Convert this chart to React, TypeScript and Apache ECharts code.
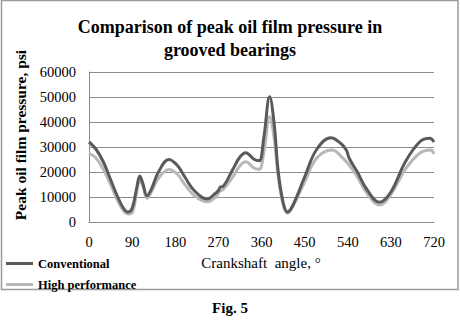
import React, { useEffect, useRef } from "react";
import * as echarts from "echarts";

const titleText = "Comparison of peak oil film pressure in\ngrooved bearings";
const xAxisName = "Crankshaft  angle, \u00b0";
const yAxisName = "Peak oil film pressure, psi";
const caption = "Fig. 5";
const seriesNames = ["Conventional", "High performance"];

const convAngles = [0, 15, 30, 45, 60, 72, 81, 90, 100, 106, 113, 121, 130, 145, 167, 185, 200, 220, 247, 264, 270, 274, 280, 300, 315, 327, 345, 355, 365, 377, 386, 395, 405, 414, 425, 450, 475, 505, 525, 537, 543, 560, 580, 606, 630, 660, 690, 711, 720];
const convValues = [32000, 29000, 24000, 17000, 10000, 5500, 4000, 5500, 14000, 18400, 15000, 10500, 13000, 20000, 25000, 22500, 18000, 12500, 9200, 11500, 12500, 14000, 14300, 21000, 26000, 27700, 25000, 24500, 34000, 50100, 40000, 20000, 8000, 4000, 6500, 18000, 29000, 33700, 31500, 28800, 25500, 20000, 13000, 7900, 12000, 24000, 32000, 33500, 32000];

const hpAngles = [0, 15, 30, 45, 60, 74, 84, 92, 100, 106, 113, 121, 130, 145, 167, 185, 200, 220, 247, 265, 272, 280, 300, 315, 327, 345, 355, 365, 377, 386, 395, 405, 414, 425, 450, 475, 507, 530, 543, 560, 580, 606, 630, 660, 690, 713, 720];
const hpValues = [27500, 25500, 21000, 15000, 8500, 4000, 3200, 4500, 12500, 16800, 14000, 9500, 12000, 17500, 21000, 19000, 15000, 10500, 8100, 10000, 12100, 13000, 18000, 22500, 24100, 21500, 21100, 28000, 42100, 34000, 18000, 7000, 3500, 6000, 16000, 25500, 28800, 25500, 22800, 18000, 11500, 6800, 11000, 21000, 27500, 28800, 27200];

const FONT = "Liberation Serif";

export default function App() {
  const ref = useRef<HTMLDivElement>(null);
  useEffect(() => {
    if (!ref.current) return;
    const chart = echarts.init(ref.current, undefined, { renderer: "svg" });
    chart.setOption({
      animation: false,
      backgroundColor: "#ffffff",
      title: {
        text: titleText,
        left: "center",
        top: 10,
        textStyle: { fontFamily: FONT, fontSize: 18, fontWeight: "bold", color: "#000", lineHeight: 23 },
      },
      legend: {
        orient: "vertical",
        left: 1,
        top: 252,
        itemWidth: 27,
        itemHeight: 3,
        itemGap: 8,
        icon: "rect",
        data: seriesNames,
        textStyle: { fontFamily: FONT, fontSize: 12.5, fontWeight: "bold", color: "#000" },
      },
      grid: { left: 89, right: 26, top: 72, bottom: 103 },
      xAxis: {
        type: "value",
        min: 0,
        max: 720,
        interval: 90,
        axisLine: { show: true, lineStyle: { color: "#8c8c8c", width: 1 } },
        axisTick: { show: false },
        splitLine: { show: false },
        axisLabel: { fontFamily: FONT, fontSize: 14.5, color: "#000", margin: 12 },
      },
      yAxis: {
        type: "value",
        min: 0,
        max: 60000,
        interval: 10000,
        axisLine: { show: true, lineStyle: { color: "#8c8c8c", width: 1 } },
        axisTick: { show: false },
        splitLine: { show: true, lineStyle: { color: "#8c8c8c", width: 1 } },
        axisLabel: { fontFamily: FONT, fontSize: 14.5, color: "#000", margin: 13, formatter: (v: number) => String(v) },
      },
      series: [
        {
          name: seriesNames[0],
          type: "line",
          data: convAngles.map((a, i) => [a, convValues[i]]),
          smooth: 0.4,
          symbol: "none",
          lineStyle: { color: "#5a5a5a", width: 3 },
          itemStyle: { color: "#5a5a5a" },
          z: 3,
        },
        {
          name: seriesNames[1],
          type: "line",
          data: hpAngles.map((a, i) => [a, hpValues[i]]),
          smooth: 0.4,
          symbol: "none",
          lineStyle: { color: "#b8b8b8", width: 3 },
          itemStyle: { color: "#b8b8b8" },
          z: 2,
        },
      ],
      graphic: [
        {
          type: "rect",
          shape: { x: 1.5, y: 0.5, width: 456.5, height: 289 },
          style: { fill: "none", stroke: "#9a9a9a", lineWidth: 1.5 },
          silent: true,
        },
        {
          type: "text",
          x: 20,
          y: 135,
          rotation: Math.PI / 2,
          style: { text: yAxisName, fontFamily: FONT, fontSize: 15.5, fontWeight: "bold", fill: "#000", textAlign: "center", textVerticalAlign: "middle" },
        },
        {
          type: "text",
          x: 261,
          y: 263,
          style: { text: xAxisName, fontFamily: FONT, fontSize: 15, fill: "#000", textAlign: "center", textVerticalAlign: "middle" },
        },
        {
          type: "text",
          x: 230,
          y: 308,
          style: { text: caption, fontFamily: FONT, fontSize: 15, fontWeight: "bold", fill: "#000", textAlign: "center", textVerticalAlign: "middle" },
        },
      ],
    });
    return () => chart.dispose();
  }, []);
  return <div ref={ref} style={{ position: "absolute", left: 0, top: 0, width: 460, height: 325 }} />;
}
